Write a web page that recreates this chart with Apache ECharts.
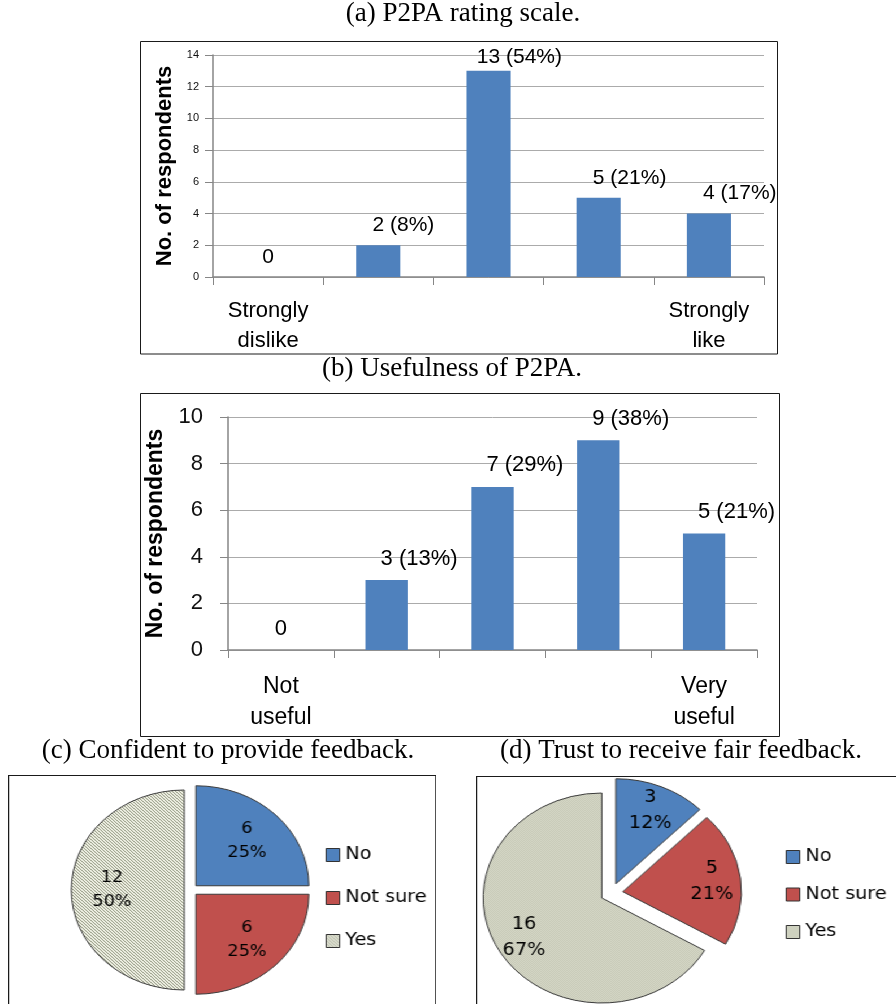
<!DOCTYPE html>
<html>
<head>
<meta charset="utf-8">
<script src="https://cdn.jsdelivr.net/npm/echarts@6/dist/echarts.min.js"></script>
<style>
  html, body { margin: 0; padding: 0; background: #fff; overflow: hidden; width: 896px; height: 1004px; }
  #main { position: absolute; left: 0; top: 0; width: 896px; height: 1004px; }
  .pie { position: absolute; box-sizing: border-box; border: 1px solid #1a1a1a; transform-origin: 0 0; transform: scaleX(1.13); }
  #pieC { left: 8px; top: 775px; width: 379px; height: 260px; }
  #pieD { left: 476px; top: 776px; width: 400px; height: 260px; }
</style>
</head>
<body>
<div id="main"></div>
<div id="pieC" class="pie"></div>
<div id="pieD" class="pie"></div>
<script>
// (a) P2PA rating scale
const ratingCategories = ['Strongly\ndislike', '', '', '', 'Strongly\nlike'];
const ratingCounts = [0, 2, 13, 5, 4];
const ratingPercents = [null, 8, 54, 21, 17];
const ratingAxis = { min: 0, max: 14, interval: 2 };

// (b) Usefulness of P2PA
const usefulCategories = ['Not\nuseful', '', '', '', 'Very\nuseful'];
const usefulCounts = [0, 3, 7, 9, 5];
const usefulPercents = [null, 13, 29, 38, 21];
const usefulAxis = { min: 0, max: 10, interval: 2 };

// (c) and (d) answers
const answerNames = ['No', 'Not sure', 'Yes'];
const confidentCounts = [6, 6, 12];
const trustCounts = [3, 5, 16];

const serif = '"Liberation Serif", "Times New Roman", serif';
const sans = '"Liberation Sans", Arial, sans-serif';
const verdanaLike = '"DejaVu Sans", Verdana, sans-serif';
const barBlue = '#4F81BD';
const axisGrey = '#868686';

const measureCtx = document.createElement('canvas').getContext('2d');
function textWidth(str, font) {
  measureCtx.font = font;
  return measureCtx.measureText(str).width;
}

function barLabel(pcts) {
  return p => pcts[p.dataIndex] == null ? String(p.value) : p.value + ' (' + pcts[p.dataIndex] + '%)';
}

function titleItem(text, x, y) {
  return {
    text, left: x, top: y, textAlign: 'center', padding: 0,
    textStyle: { fontFamily: serif, fontSize: 27, fontWeight: 'normal', color: '#000' }
  };
}

function categoryAxis(grid, cats, fontSize, lineHeight, margin) {
  return {
    gridIndex: grid, type: 'category', data: cats,
    axisLine: { show: true, lineStyle: { color: axisGrey, width: 1.5 } },
    axisTick: { show: true, length: 8, lineStyle: { color: axisGrey } },
    axisLabel: { interval: 0, margin, fontFamily: sans, fontSize, lineHeight, color: '#000' },
    splitLine: { show: false }
  };
}

function valueAxis(grid, range, labelSize, labelMargin, nameSize, nameGap) {
  return {
    gridIndex: grid, type: 'value', min: range.min, max: range.max, interval: range.interval,
    name: 'No. of respondents', nameLocation: 'middle', nameGap,
    nameTextStyle: { fontFamily: sans, fontSize: nameSize, fontWeight: 'bold', color: '#000' },
    axisLine: { show: true, lineStyle: { color: axisGrey, width: 1.5 } },
    axisTick: { show: true, length: 8, lineStyle: { color: axisGrey } },
    axisLabel: { margin: labelMargin, fontFamily: sans, fontSize: labelSize, color: '#111' },
    splitLine: { show: true, lineStyle: { color: '#ababab', width: 1 } }
  };
}

function barSeries(idx, counts, pcts, fontSize, distance, labelCeiling) {
  const font = fontSize + 'px "Liberation Sans"';
  return {
    type: 'bar', xAxisIndex: idx, yAxisIndex: idx,
    data: counts, barWidth: '40%',
    itemStyle: { color: barBlue },
    label: {
      show: true, position: 'top', distance, align: 'left',
      formatter: barLabel(pcts), fontFamily: sans, fontSize, color: '#000'
    },
    // the count sits centred over its bar with the percentage trailing to the right;
    // labels that would poke out above the plot are pushed back down
    labelLayout: p => {
      const out = { dx: -textWidth(String(counts[p.dataIndex]), font) / 2 };
      if (labelCeiling != null && p.labelRect.y < labelCeiling) out.dy = labelCeiling - p.labelRect.y;
      return out;
    },
    silent: true
  };
}

const main = echarts.init(document.getElementById('main'), null, { renderer: 'canvas' });
main.setOption({
  animation: false,
  backgroundColor: '#fff',
  title: [
    titleItem('(a) P2PA rating scale.', 463, 0),
    titleItem('(b) Usefulness of P2PA.', 452, 355),
    titleItem('(c) Confident to provide feedback.', 228, 737),
    titleItem('(d) Trust to receive fair feedback.', 681, 737)
  ],
  grid: [
    { left: 213, top: 55, width: 551, height: 222 },
    { left: 228, top: 417, width: 529, height: 233 }
  ],
  xAxis: [
    categoryAxis(0, ratingCategories, 22, 30, 19),
    categoryAxis(1, usefulCategories, 23, 31, 21)
  ],
  yAxis: [
    valueAxis(0, ratingAxis, 11, 14, 22, 37),
    valueAxis(1, usefulAxis, 22, 25, 23, 55)
  ],
  series: [
    barSeries(0, ratingCounts, ratingPercents, 21, 9.5, 47),
    barSeries(1, usefulCounts, usefulPercents, 22, 10.5, null)
  ],
  graphic: [
    { type: 'rect', silent: true, shape: { x: 140.5, y: 41.5, width: 637, height: 312.5 },
      style: { fill: 'none', stroke: '#1a1a1a', lineWidth: 1 } },
    { type: 'rect', silent: true, shape: { x: 140.5, y: 393.5, width: 639, height: 343 },
      style: { fill: 'none', stroke: '#1a1a1a', lineWidth: 1 } }
  ]
});

// fill patterns for the "Yes" slices
function hatchPattern() {
  const c = document.createElement('canvas');
  c.width = c.height = 3;
  const g = c.getContext('2d');
  g.fillStyle = '#f1f2e6'; g.fillRect(0, 0, 3, 3);
  g.fillStyle = '#8d927c';
  for (let i = 0; i < 3; i++) g.fillRect(i, i, 1, 1);
  return { image: c, repeat: 'repeat' };
}
function dotPattern() {
  const c = document.createElement('canvas');
  c.width = c.height = 2;
  const g = c.getContext('2d');
  g.fillStyle = '#f0f2e5'; g.fillRect(0, 0, 2, 2);
  g.fillStyle = '#adb09a';
  g.fillRect(0, 0, 1, 1); g.fillRect(1, 1, 1, 1);
  return { image: c, repeat: 'repeat' };
}

function pieOption(counts, cfg) {
  const colors = ['#4F81BD', '#C0504D', cfg.pattern];
  const items = answerNames.map((n, i) => ({ name: n, value: counts[i], selected: true, itemStyle: { color: colors[i] } }));
  const common = {
    type: 'pie', center: cfg.center, startAngle: 90, clockwise: true,
    selectedMode: 'multiple', selectedOffset: cfg.offset,
    percentPrecision: 0, silent: true, legendHoverLink: false,
    emphasis: { disabled: true }, labelLine: { show: false }
  };
  return {
    animation: false,
    legend: {
      orient: 'vertical', left: cfg.legendLeft, top: cfg.legendTop,
      itemWidth: 12, itemHeight: 13, itemGap: cfg.legendGap, icon: 'rect', selectedMode: false,
      data: answerNames.map((n, i) => ({ name: n, itemStyle: { color: colors[i], borderColor: '#333', borderWidth: 1 } })),
      textStyle: { fontFamily: verdanaLike, fontSize: 17, lineHeight: 20, color: '#000' }
    },
    series: [
      Object.assign({}, common, {
        radius: [0, cfg.radius],
        data: items,
        itemStyle: { borderColor: '#3a3a3a', borderWidth: 1 },
        label: { show: false }
      }),
      // transparent ring that only carries the count / percentage labels
      Object.assign({}, common, {
        radius: [cfg.labelInner, cfg.radius],
        data: items.map(d => ({ name: d.name, value: d.value, selected: true })),
        itemStyle: { color: 'rgba(0,0,0,0)', borderWidth: 0 },
        label: {
          show: true, position: 'inside', formatter: '{c}\n{d}%',
          fontFamily: verdanaLike, fontSize: cfg.labelSize, lineHeight: cfg.labelLine, color: '#000'
        }
      })
    ]
  };
}

const pieC = echarts.init(document.getElementById('pieC'));
pieC.setOption(pieOption(confidentCounts, {
  center: [161, 114], radius: 100, offset: 6, labelInner: 22, labelSize: 15.5, labelLine: 24,
  pattern: hatchPattern(), legendLeft: 275, legendTop: 64, legendGap: 23
}));

const pieD = echarts.init(document.getElementById('pieD'));
pieD.setOption(pieOption(trustCounts, {
  center: [119, 116], radius: 105, offset: 10, labelInner: 48, labelSize: 17, labelLine: 26,
  pattern: dotPattern(), legendLeft: 268, legendTop: 65, legendGap: 17.5
}));
</script>
</body>
</html>
